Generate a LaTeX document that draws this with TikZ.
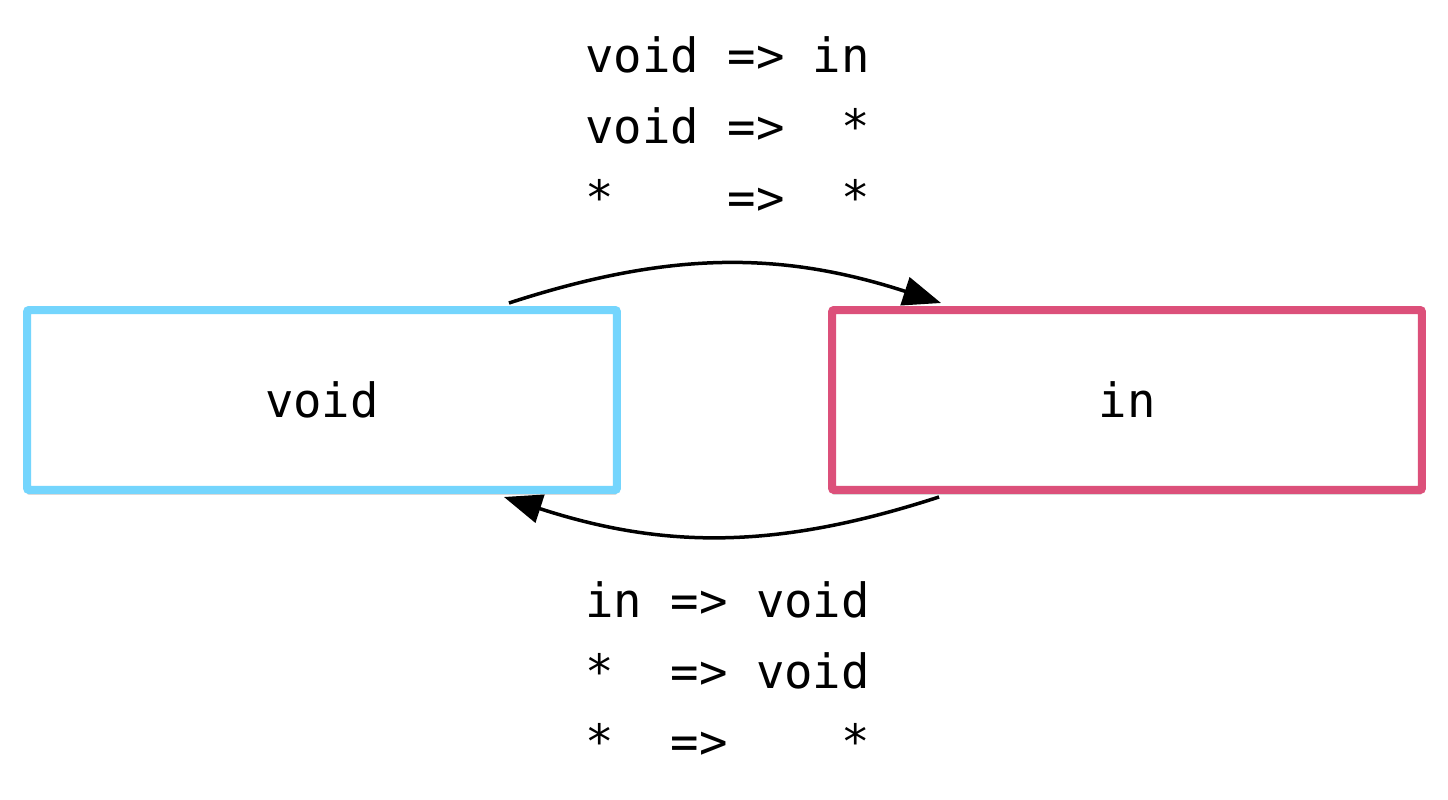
\documentclass[tikz,border=0pt]{standalone}
\usepackage{fontspec}
\setmonofont{DejaVu Sans Mono}
\usepackage{xcolor}
\usepackage{tikz}
\usetikzlibrary{calc, arrows.meta, shadows}

\definecolor{voidblue}{RGB}{116,213,253}
\definecolor{inred}{RGB}{220,80,122}

\begin{document}
\begin{tikzpicture}[x=0.02cm, y=-0.02cm, >={Triangle[length=0.76cm, width=0.58cm]},
    state/.style={draw, line width=0.16cm, fill=white, minimum width=11.8cm, minimum height=3.6cm,
        rounded corners=0.04cm, font=\ttfamily\fontsize{26.9}{32}\selectfont,
        drop shadow={shadow xshift=0cm, shadow yshift=-0.1cm, fill=black, opacity=0.15}},
    rule/.style={font=\ttfamily\fontsize{26.9}{32}\selectfont, inner sep=0pt, anchor=base west}]
    \useasboundingbox (0,0) rectangle (1448,800);

    % Zustaende
    \node[state, draw=voidblue] (void) at (322,400) {void};
    \node[state, draw=inred] (in) at (1127,400) {in};

    % Uebergaenge
    \draw[->, line width=0.07cm] ($(void.north east)+(-112,-3)$) to[bend left=18] ($(in.north west)+(113,-3)$);
    \draw[->, line width=0.07cm] ($(in.south west)+(111,3)$) to[bend left=18] ($(void.south east)+(-117,3)$);

    % Regeln
    \foreach \txt [count=\i] in {void~=>~in, void~=>~~*, *~~~~=>~~*} {
        \node[rule] (fwd\i) at (585, 2+71*\i) {\txt};
    }
    \foreach \txt [count=\i] in {in~=>~void, *~~=>~void, *~~=>~~~~*} {
        \node[rule] (bwd\i) at (585, 548+70*\i) {\txt};
    }
\end{tikzpicture}
\end{document}
